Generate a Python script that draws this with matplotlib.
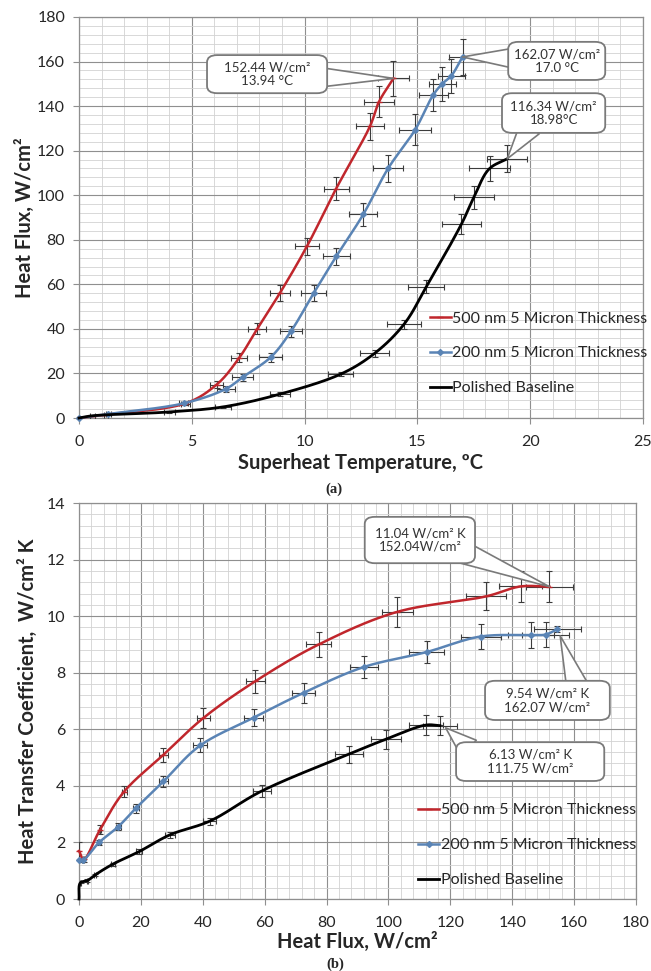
import numpy as np
import matplotlib
matplotlib.use("Agg")
import matplotlib.pyplot as plt
from matplotlib.ticker import MultipleLocator
from matplotlib.patches import FancyBboxPatch

plt.rcParams['font.family'] = ['Lato', 'DejaVu Sans']

# ---- (a) heat flux vs superheat ----
red_a_x = [0, 1.2, 4.7, 6.1, 7.1, 7.9, 8.9, 10.1, 11.4, 12.9, 13.3, 13.94]
red_a_y = [0, 1.5, 6.5, 15, 27, 40, 56, 77, 103, 131, 142, 152.44]
red_a_xerr = [0, 0.1, 0.2, 0.3, 0.35, 0.4, 0.45, 0.52, 0.55, 0.6, 0.65, 0.7]
red_a_yerr = [0, 0.3, 0.6, 1.5, 2, 2.5, 3.5, 4, 5, 6, 7, 8]

blue_a_x = [0, 1.3, 4.65, 6.5, 7.25, 8.5, 9.4, 10.4, 11.4, 12.6, 13.7, 14.9, 15.7, 16.1, 16.5, 17.0]
blue_a_y = [0, 1.8, 6.6, 13, 18.3, 27.3, 39, 56, 72.5, 91.4, 112, 129.4, 145, 150, 153.6, 162.07]
blue_a_xerr = [0, 0.1, 0.2, 0.4, 0.45, 0.5, 0.5, 0.55, 0.6, 0.63, 0.65, 0.7, 0.65, 0.6, 0.6, 0.6]
blue_a_yerr = [0, 0.3, 0.6, 1.2, 1.5, 2, 2.5, 3.5, 4, 5, 6, 7, 7, 7.5, 7.5, 8]

black_a_x = [0, 0.6, 4.0, 6.4, 8.9, 11.6, 13.1, 14.4, 15.4, 16.95, 17.5, 18.2, 18.98]
black_a_y = [0, 1, 2.7, 5, 10.7, 19.7, 29, 42, 59, 87, 99, 112, 116.34]
black_a_xerr = [0, 0.1, 0.25, 0.35, 0.45, 0.55, 0.66, 0.74, 0.8, 0.85, 0.88, 0.9, 0.9]
black_a_yerr = [0, 0.3, 0.3, 0.5, 1, 1, 1.5, 2, 3, 4.5, 5, 5.5, 6]

# ---- (b) heat transfer coefficient vs heat flux ----
red_b_x = [0, 1.5, 6.8, 14.6, 27.3, 40.2, 57, 77.5, 102.8, 131.6, 142.7, 152.04]
red_b_y = [1.7, 1.4, 2.45, 3.8, 5.1, 6.4, 7.7, 9.0, 10.15, 10.7, 11.05, 11.04]
red_b_xerr = [0, 0.2, 0.4, 0.8, 1.5, 2, 3, 4, 5, 6.5, 7, 7.5]
red_b_yerr = [0.3, 0.1, 0.15, 0.2, 0.25, 0.35, 0.4, 0.45, 0.52, 0.5, 0.55, 0.55]

blue_b_x = [0, 1.3, 6.5, 12.7, 18.3, 27.3, 39.2, 56.4, 72.6, 92, 112.3, 129.8, 146, 150.8, 154.6]
blue_b_y = [1.38, 1.38, 2.0, 2.56, 3.2, 4.16, 5.43, 6.41, 7.29, 8.2, 8.73, 9.28, 9.33, 9.35, 9.54]
blue_b_xerr = [0.1, 0.2, 0.5, 0.8, 1, 1.5, 2.2, 3, 3.8, 4.5, 5.5, 6.5, 7.5, 7.5, 7.5]
blue_b_yerr = [0.05, 0.08, 0.1, 0.12, 0.15, 0.2, 0.25, 0.3, 0.35, 0.4, 0.4, 0.45, 0.45, 0.45, 0.1]

black_b_x = [0, 0.5, 2.7, 5.2, 10.9, 19.5, 29.4, 42.2, 59.1, 87.2, 99.2, 112.1, 116.6]
black_b_y = [0, 0.58, 0.65, 0.85, 1.23, 1.68, 2.27, 2.75, 3.82, 5.12, 5.65, 6.15, 6.13]
black_b_xerr = [0, 0.1, 0.2, 0.3, 0.6, 1, 1.5, 2.2, 3, 4.5, 4.9, 5.5, 5.5]
black_b_yerr = [0, 0.03, 0.04, 0.05, 0.06, 0.08, 0.1, 0.12, 0.2, 0.3, 0.33, 0.35, 0.33]

labels = ['500 nm 5 Micron Thickness', '200 nm 5 Micron Thickness', 'Polished Baseline']
RED = '#c0262c'
BLUE = '#5a84b5'
BLACK = '#000000'
GRID_MAJ = '#8f8f8f'
GRID_MIN = '#d2d2d2'
TXT = '#262626'


def smooth(x, y, sx, sy, n=24):
    # centripetal catmull-rom, like Excel's smoothed lines
    p = np.column_stack([np.asarray(x, float) / sx, np.asarray(y, float) / sy])
    p = np.vstack([2 * p[0] - p[1], p, 2 * p[-1] - p[-2]])
    out = [p[1]]
    for i in range(1, len(p) - 2):
        p0, p1, p2, p3 = p[i - 1], p[i], p[i + 1], p[i + 2]
        t0 = 0.0
        t1 = t0 + max(np.linalg.norm(p1 - p0), 1e-6) ** 0.5
        t2 = t1 + max(np.linalg.norm(p2 - p1), 1e-6) ** 0.5
        t3 = t2 + max(np.linalg.norm(p3 - p2), 1e-6) ** 0.5
        t = np.linspace(t1, t2, n)[1:, None]
        a1 = (t1 - t) / (t1 - t0) * p0 + (t - t0) / (t1 - t0) * p1
        a2 = (t2 - t) / (t2 - t1) * p1 + (t - t1) / (t2 - t1) * p2
        a3 = (t3 - t) / (t3 - t2) * p2 + (t - t2) / (t3 - t2) * p3
        b1 = (t2 - t) / (t2 - t0) * a1 + (t - t0) / (t2 - t0) * a2
        b2 = (t3 - t) / (t3 - t1) * a2 + (t - t1) / (t3 - t1) * a3
        c = (t2 - t) / (t2 - t1) * b1 + (t - t1) / (t2 - t1) * b2
        out.extend(c)
    out = np.array(out)
    return out[:, 0] * sx, out[:, 1] * sy


def draw_series(ax, x, y, xerr, yerr, color, marker, ms, label, lw, sx, sy):
    x = np.asarray(x); y = np.asarray(y)
    xerr = np.asarray(xerr); yerr = np.asarray(yerr)
    m = xerr > 0
    ax.errorbar(x[m], y[m], xerr=xerr[m], fmt='none', ecolor='#3c3c3c',
                elinewidth=0.8, capsize=2.5, capthick=0.8, zorder=3)
    m = yerr > 0
    ax.errorbar(x[m], y[m], yerr=yerr[m], fmt='none', ecolor='#3c3c3c',
                elinewidth=0.8, capsize=2.5, capthick=0.8, zorder=3)
    sxp, syp = smooth(x, y, sx, sy)
    ax.plot(sxp, syp, color=color, lw=lw, zorder=4, clip_on=False)
    ax.plot(x, y, ls='none', marker=marker, ms=ms, color=color, zorder=4, clip_on=False)
    ax.plot([], [], color=color, lw=lw, marker=marker, ms=ms, label=label)


def callout(ax, lines, tip, tail, box):
    x0, y0, x1, y1 = box
    ax.annotate('', xy=tip, xycoords='data', xytext=tail, textcoords='axes fraction',
                arrowprops=dict(arrowstyle='wedge,tail_width=0.8', mutation_scale=20,
                                fc='white', ec='#7a7a7a', lw=1.2, shrinkA=0, shrinkB=0),
                zorder=6)
    ax.add_patch(FancyBboxPatch((x0, y0), x1 - x0, y1 - y0,
                                boxstyle='round,pad=0,rounding_size=0.018',
                                transform=ax.transAxes, fc='white', ec='#7a7a7a',
                                lw=1.3, zorder=7, clip_on=False))
    ax.text((x0 + x1) / 2, (y0 + y1) / 2, lines, transform=ax.transAxes,
            ha='center', va='center', fontsize=9.5, color='#333333',
            linespacing=1.15, zorder=8)


def style_axes(ax, xmax, ymax, xmaj, xmin_, ymaj, ymin_):
    ax.set_xlim(0, xmax)
    ax.set_ylim(0, ymax)
    ax.xaxis.set_major_locator(MultipleLocator(xmaj))
    ax.xaxis.set_minor_locator(MultipleLocator(xmin_))
    ax.yaxis.set_major_locator(MultipleLocator(ymaj))
    ax.yaxis.set_minor_locator(MultipleLocator(ymin_))
    ax.grid(which='major', color=GRID_MAJ, lw=0.8, zorder=0)
    ax.grid(which='minor', color=GRID_MIN, lw=0.6, zorder=0)
    ax.set_axisbelow(True)
    ax.tick_params(which='major', length=4, width=0.8, color=GRID_MAJ,
                   labelsize=11.5, labelcolor=TXT)
    ax.tick_params(axis='x', which='major', pad=8)
    ax.tick_params(axis='y', which='major', pad=6)
    ax.tick_params(which='minor', length=0)
    for s in ax.spines.values():
        s.set_color(GRID_MAJ)
        s.set_linewidth(0.9)


fig = plt.figure(figsize=(6.51, 9.71), dpi=100)

# ---------- top chart ----------
ax1 = fig.add_axes([79 / 651, 1 - 418 / 971, 564 / 651, 401 / 971])
style_axes(ax1, 25, 180, 5, 1, 20, 4)
draw_series(ax1, red_a_x, red_a_y, red_a_xerr, red_a_yerr, RED, '_', 4, labels[0], 1.8, 25, 180)
draw_series(ax1, blue_a_x, blue_a_y, blue_a_xerr, blue_a_yerr, BLUE, 'D', 3, labels[1], 1.8, 25, 180)
draw_series(ax1, black_a_x, black_a_y, black_a_xerr, black_a_yerr, BLACK, None, 0, labels[2], 2.0, 25, 180)

ax1.set_xlabel('Superheat Temperature, ºC', fontsize=14.5, fontweight='bold', color=TXT)
ax1.xaxis.set_label_coords(0.5, -(463 - 418) / 401)
ax1.xaxis.label.set_va('center')
ax1.set_ylabel('Heat Flux, W/cm²', fontsize=14.5, fontweight='bold', color=TXT)
ax1.yaxis.set_label_coords(-(79 - 25) / 564, 0.5)
ax1.yaxis.label.set_va('center')

ax1.legend(loc='upper left', bbox_to_anchor=(0.622, 0.266), frameon=False,
           fontsize=11.5, handlelength=1.3, handletextpad=0.1, labelspacing=1.3,
           borderpad=0, borderaxespad=0, labelcolor=TXT)

callout(ax1, '152.44 W/cm²\n13.94 °C', (13.94, 152.44), (0.41, 0.85), (0.227, 0.810, 0.440, 0.905))
callout(ax1, '162.07 W/cm²\n17.0 °C', (17.0, 162.07), (0.78, 0.897), (0.761, 0.843, 0.933, 0.938))
callout(ax1, '116.34 W/cm²\n18.98°C', (18.98, 116.34), (0.80, 0.725), (0.750, 0.711, 0.933, 0.810))

fig.text(334 / 651, 1 - 489 / 971, '(a)', ha='center', va='center',
         fontsize=10.5, fontweight='bold', family='Liberation Serif', color=TXT)

# ---------- bottom chart ----------
ax2 = fig.add_axes([79 / 651, 1 - 899 / 971, 557 / 651, 396 / 971])
style_axes(ax2, 180, 14, 20, 4, 2, 0.4)
draw_series(ax2, red_b_x, red_b_y, red_b_xerr, red_b_yerr, RED, '_', 4, labels[0], 1.8, 180, 14)
draw_series(ax2, blue_b_x, blue_b_y, blue_b_xerr, blue_b_yerr, BLUE, 'D', 3, labels[1], 1.8, 180, 14)
draw_series(ax2, black_b_x, black_b_y, black_b_xerr, black_b_yerr, BLACK, None, 0, labels[2], 2.0, 180, 14)

ax2.set_xlabel('Heat Flux, W/cm²', fontsize=14.5, fontweight='bold', color=TXT)
ax2.xaxis.set_label_coords(0.5, -(942 - 899) / 396)
ax2.xaxis.label.set_va('center')
ax2.set_ylabel('Heat Transfer Coefficient,  W/cm² K', fontsize=14.5, fontweight='bold', color=TXT)
ax2.yaxis.set_label_coords(-(79 - 28) / 557, 0.5)
ax2.yaxis.label.set_va('center')

ax2.legend(loc='upper left', bbox_to_anchor=(0.609, 0.242), frameon=False,
           fontsize=11.5, handlelength=1.3, handletextpad=0.1, labelspacing=1.3,
           borderpad=0, borderaxespad=0, labelcolor=TXT)

callout(ax2, '11.04 W/cm² K\n152.04W/cm²', (152.04, 11.04), (0.69, 0.875), (0.513, 0.848, 0.711, 0.965))
callout(ax2, '9.54 W/cm² K\n162.07 W/cm²', (155.5, 9.3), (0.895, 0.535), (0.729, 0.452, 0.953, 0.551))
callout(ax2, '6.13 W/cm² K\n111.75 W/cm²', (118.5, 6.05), (0.70, 0.38), (0.677, 0.298, 0.943, 0.396))

fig.text(335 / 651, 1 - 964 / 971, '(b)', ha='center', va='center',
         fontsize=10.5, fontweight='bold', family='Liberation Serif', color=TXT)

fig.savefig('out.png', dpi=100)
